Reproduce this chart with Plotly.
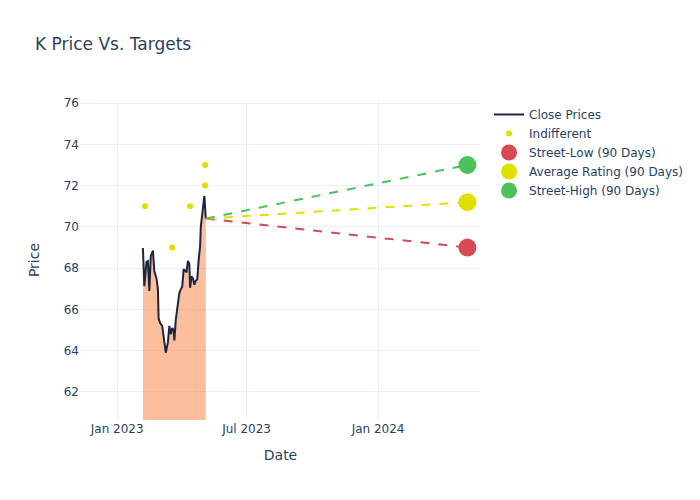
import plotly.graph_objects as go

close_dates = [
    "2023-02-06", "2023-02-08", "2023-02-11", "2023-02-13", "2023-02-15", "2023-02-17",
    "2023-02-20", "2023-02-22", "2023-02-25", "2023-02-27", "2023-02-28", "2023-03-02",
    "2023-03-05", "2023-03-07", "2023-03-09", "2023-03-10", "2023-03-13", "2023-03-15",
    "2023-03-17", "2023-03-19", "2023-03-21", "2023-03-22", "2023-03-24", "2023-03-27",
    "2023-03-29", "2023-03-31", "2023-04-02", "2023-04-04", "2023-04-06", "2023-04-08",
    "2023-04-10", "2023-04-12", "2023-04-13", "2023-04-15", "2023-04-17", "2023-04-19",
    "2023-04-21", "2023-04-23", "2023-04-25", "2023-04-27", "2023-04-28", "2023-04-30",
    "2023-05-03", "2023-05-05",
]
close_prices = [
    68.98, 67.13, 68.30, 68.34, 66.90, 68.58, 68.85, 67.85, 67.50, 66.97, 65.55, 65.35,
    65.20, 64.70, 64.30, 63.90, 64.40, 65.20, 64.80, 65.10, 65.00, 64.50, 65.50, 66.30,
    66.80, 66.97, 67.10, 67.95, 67.85, 67.80, 68.35, 68.20, 67.05, 67.60, 67.50, 67.20,
    67.40, 67.45, 68.40, 69.06, 70.00, 70.70, 71.50, 70.40,
]

rating_dates = ["2023-02-09", "2023-03-19", "2023-04-13", "2023-05-04", "2023-05-04"]
rating_targets = [71, 69, 71, 72, 73]

target_date = "2024-05-05"
target_names = ["Street-Low (90 Days)", "Average Rating (90 Days)", "Street-High (90 Days)"]
target_values = [69.0, 71.2, 73.0]
target_colors = ["#d64a52", "#e0e000", "#4cc35a"]

fig = go.Figure()
fig.add_trace(go.Scatter(
    x=close_dates, y=close_prices, mode="lines", showlegend=False, hoverinfo="skip",
    line=dict(width=0), fill="tozeroy", fillcolor="rgba(249,125,58,0.5)",
))
fig.add_trace(go.Scatter(
    x=close_dates, y=close_prices, mode="lines", name="Close Prices",
    line=dict(color="#1c2541", width=2),
))
fig.add_trace(go.Scatter(
    x=rating_dates, y=rating_targets, mode="markers", name="Indifferent",
    marker=dict(color="#e0e000", size=6),
))
for name, val, col in zip(target_names, target_values, target_colors):
    fig.add_trace(go.Scatter(
        x=[close_dates[-1], target_date], y=[close_prices[-1], val], mode="lines",
        line=dict(color=col, dash="dash", width=2), showlegend=False, hoverinfo="skip",
    ))
for name, val, col in zip(target_names, target_values, target_colors):
    fig.add_trace(go.Scatter(
        x=[target_date], y=[val], mode="markers", name=name,
        marker=dict(color=col, size=18),
    ))

fig.update_layout(
    template="plotly_white",
    width=692, height=492,
    margin=dict(l=72, t=92, b=80),
    font=dict(family="DejaVu Sans"),
    title=dict(text="K Price Vs. Targets", x=27 / 692, y=1 - 36 / 492,
               yanchor="middle", yref="container"),
    xaxis=dict(title="Date", range=["2022-11-10", "2024-05-24"], dtick="M6",
               tick0="2023-01-01"),
    yaxis=dict(title=dict(text="Price", standoff=20), range=[60.64, 76.15]),
)
fig.write_html("out.html")
